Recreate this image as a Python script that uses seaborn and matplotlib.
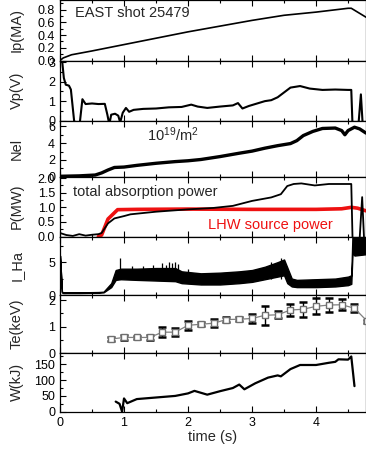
import numpy as np
import pandas as pd
import seaborn as sns
import matplotlib
matplotlib.use("Agg")
import matplotlib.pyplot as plt
from matplotlib.ticker import MultipleLocator, FormatStrFormatter

# ---- data (time in s) ----
ip_t = [0.0, 0.05, 0.18, 0.5, 1.0, 1.5, 2.0, 2.5, 3.0, 3.5, 4.0, 4.5, 4.55, 4.78]
ip_v = [0.0, 0.04, 0.09, 0.15, 0.25, 0.35, 0.45, 0.54, 0.63, 0.71, 0.76, 0.82, 0.82, 0.68]

vp_t = [0.0, 0.03, 0.06, 0.09, 0.14, 0.17, 0.22, 0.26, 0.31, 0.35, 0.40, 0.50, 0.60, 0.70,
        0.74, 0.77, 0.80, 0.86, 0.91, 0.94, 0.98, 1.03, 1.08, 1.15, 1.3, 1.5, 1.7, 1.9,
        2.05, 2.15, 2.3, 2.5, 2.7, 2.78, 2.85, 2.95, 3.1, 3.2, 3.3, 3.4, 3.5, 3.6, 3.75,
        3.9, 4.1, 4.3, 4.5, 4.55, 4.57, 4.66, 4.70, 4.73, 4.78]
vp_v = [3.5, 3.2, 2.2, 1.85, 1.8, 1.6, 0.0, -0.3, -0.1, 1.1, 0.85, 0.88, 0.85, 0.86,
        0.3, -0.2, 0.3, 0.35, 0.25, -0.1, 0.4, 0.65, 0.45, 0.55, 0.6, 0.62, 0.68, 0.7,
        0.82, 0.72, 0.65, 0.72, 0.78, 0.9, 0.62, 0.75, 0.9, 1.0, 1.05, 1.2, 1.45, 1.7, 1.78,
        1.65, 1.58, 1.6, 1.58, 1.58, -0.3, -0.3, 1.35, -0.3, -0.3]

nel_t = [0.0, 0.3, 0.55, 0.65, 0.75, 0.85, 1.0, 1.2, 1.5, 1.8, 2.0, 2.2, 2.5, 2.8, 3.0,
         3.2, 3.4, 3.6, 3.7, 3.8, 3.95, 4.1, 4.3, 4.4, 4.45, 4.5, 4.6, 4.68, 4.78]
nel_v = [0.05, 0.1, 0.2, 0.45, 0.8, 1.1, 1.15, 1.35, 1.6, 1.8, 1.9, 2.05, 2.4, 2.8, 3.05,
         3.4, 3.7, 3.95, 4.3, 4.9, 5.4, 5.75, 5.8, 5.5, 5.0, 5.5, 5.9, 5.7, 5.2]

pabs_t = [0.0, 0.1, 0.2, 0.3, 0.4, 0.5, 0.6, 0.65, 0.75, 0.85, 1.0, 1.1, 1.5, 2.0, 2.4,
          2.7, 3.0, 3.3, 3.45, 3.55, 3.65, 3.77, 3.98, 4.2, 4.55, 4.57, 4.68, 4.72, 4.75, 4.78]
pabs_v = [0.12, 0.05, 0.02, 0.08, 0.03, 0.06, 0.08, 0.12, 0.45, 0.62, 0.7, 0.76, 0.85, 0.93,
          0.98, 1.05, 1.22, 1.34, 1.45, 1.73, 1.8, 1.82, 1.75, 1.8, 1.8, -0.1, -0.1, 1.35, -0.1, -0.1]

plhw_t = [0.6, 0.65, 0.75, 0.9, 1.2, 2.0, 3.0, 4.0, 4.4, 4.55, 4.65, 4.78]
plhw_v = [0.0, 0.05, 0.6, 0.92, 0.93, 0.94, 0.93, 0.93, 0.95, 1.0, 0.97, 0.88]

# H-alpha: envelope of the dense oscillating band plus isolated spikes
ha_t = [0.0, 0.03, 0.05, 0.3, 0.6, 0.68, 0.8, 0.87, 0.95, 1.2, 1.5, 1.8, 1.9, 2.2, 2.5,
        2.8, 3.0, 3.2, 3.4, 3.5, 3.55, 3.62, 3.7, 4.0, 4.3, 4.5, 4.55, 4.57, 4.6, 4.78]
ha_lo = [6.0, 0.4, 0.3, 0.3, 0.35, 0.4, 1.2, 2.3, 2.4, 2.3, 2.2, 2.1, 1.8, 1.6, 1.6,
         1.8, 2.0, 2.4, 2.8, 3.0, 1.8, 1.3, 1.2, 1.2, 1.3, 1.5, 1.7, 6.5, 6.0, 6.2]
ha_hi = [6.0, 0.5, 0.4, 0.4, 0.45, 0.5, 1.8, 3.8, 4.0, 4.0, 4.1, 4.1, 3.6, 3.3, 3.4,
         3.6, 3.8, 4.3, 5.0, 5.4, 4.2, 2.5, 2.3, 2.4, 2.5, 2.8, 3.0, 9.5, 9.5, 9.5]
spike_t = [0.93, 1.12, 1.3, 1.45, 1.6, 1.65, 1.7, 1.75, 1.8, 1.85, 2.0, 3.3, 3.45]
spike_top = [5.6, 4.4, 4.4, 4.5, 4.8, 4.6, 5.0, 4.9, 5.0, 4.7, 4.0, 5.0, 5.7]

te_t = [0.8, 1.0, 1.2, 1.4, 1.6, 1.8, 2.0, 2.2, 2.4, 2.6, 2.8, 3.0, 3.2, 3.4, 3.6,
        3.8, 4.0, 4.2, 4.4, 4.6, 4.8]
te_v = [0.53, 0.59, 0.59, 0.59, 0.79, 0.79, 1.05, 1.09, 1.13, 1.27, 1.28, 1.31, 1.43, 1.45,
        1.63, 1.66, 1.77, 1.82, 1.83, 1.70, 1.2]
te_err = [0.08, 0.08, 0.06, 0.08, 0.18, 0.16, 0.18, 0.08, 0.16, 0.08, 0.08, 0.18, 0.36, 0.13,
          0.24, 0.28, 0.3, 0.25, 0.2, 0.15, 0.05]

w_t = [0.87, 0.93, 0.97, 1.0, 1.05, 1.2, 1.5, 1.8, 2.0, 2.1, 2.3, 2.5, 2.7, 2.8, 2.88,
       3.05, 3.25, 3.4, 3.45, 3.6, 3.75, 4.0, 4.2, 4.3, 4.35, 4.5, 4.55, 4.6]
w_v = [32, 25, 0, 42, 27, 40, 45, 50, 58, 66, 54, 65, 75, 86, 71, 90, 108, 115, 112, 135,
       148, 148, 155, 158, 166, 165, 175, 81]

sns.set_style("ticks")
plt.rcParams['font.family'] = ['Liberation Sans', 'DejaVu Sans']
plt.rcParams['mathtext.fontset'] = 'custom'
plt.rcParams['mathtext.rm'] = 'Liberation Sans'
plt.rcParams['mathtext.it'] = 'Liberation Sans:italic'
plt.rcParams['xtick.direction'] = 'in'
plt.rcParams['ytick.direction'] = 'in'

fig = plt.figure(figsize=(3.66, 4.54), dpi=100)
H = 454.0
edges = [0, 60.5, 120.5, 176.7, 236.5, 295.0, 353.0, 411.7]  # panel borders, px from top
left, width = 60 / 366, 306 / 366
axes = []
for i in range(7):
    top, bot = edges[i], edges[i + 1]
    axes.append(fig.add_axes([left, 1 - bot / H, width, (bot - top) / H]))

ylabels = ['Ip(MA)', 'Vp(V)', 'Nel', 'P(MW)', 'I_Ha', 'Te(keV)', 'W(kJ)']
ylims = [(0, 0.95), (0, 3.1), (0, 6.7), (0, 2.05), (0, 8.9), (0, 2.2), (0, 186)]
majors = [0.2, 1, 2, 0.5, 5, 1, 50]
minors = [0.1, 0.5, 1, 0.25, 2.5, 0.5, 25]

for ax, lab, mj, mn in zip(axes, ylabels, majors, minors):
    ax.xaxis.set_major_locator(MultipleLocator(1))
    ax.xaxis.set_minor_locator(MultipleLocator(0.5))
    ax.yaxis.set_major_locator(MultipleLocator(mj))
    ax.yaxis.set_minor_locator(MultipleLocator(mn))
    ax.tick_params(which='both', top=True, bottom=True, left=True, right=False,
                   labelsize=9, colors='black', width=0.8)
    ax.tick_params(which='major', length=4)
    ax.tick_params(which='minor', length=2)
    ax.set_ylabel(lab, fontsize=10.5)
    ax.yaxis.set_label_coords(-0.118, 0.5)
    for s in ax.spines.values():
        s.set_linewidth(0.9)
        s.set_color('black')
    if ax is not axes[-1]:
        ax.tick_params(labelbottom=False)

axes[0].yaxis.set_major_formatter(FormatStrFormatter('%.1f'))
axes[3].yaxis.set_major_formatter(FormatStrFormatter('%.1f'))

# Ip
sns.lineplot(x=ip_t, y=ip_v, ax=axes[0], color='black', lw=1.2, sort=False, estimator=None)
axes[0].text(0.23, 0.75, 'EAST shot 25479', fontsize=10.5, va='center')

# Vp
sns.lineplot(x=vp_t, y=vp_v, ax=axes[1], color='black', lw=1.5, sort=False, estimator=None)

# Nel
sns.lineplot(x=nel_t, y=nel_v, ax=axes[2], color='black', lw=2.4, sort=False, estimator=None)
axes[2].text(1.36, 5.0, r'10$^{19}$/m$^{2}$', fontsize=10.5, va='center')

# power
sns.lineplot(x=plhw_t, y=plhw_v, ax=axes[3], color='#ee1111', lw=2.6, sort=False, estimator=None)
sns.lineplot(x=pabs_t, y=pabs_v, ax=axes[3], color='black', lw=1.3, sort=False, estimator=None)
axes[3].text(0.2, 1.52, 'total absorption power', fontsize=10.5, va='center')
axes[3].text(2.31, 0.41, 'LHW source power', fontsize=10.5, va='center', color='#ee1111')

# H-alpha band + spikes
axes[4].fill_between(ha_t, ha_lo, ha_hi, color='black', lw=1.0, edgecolor='black')
axes[4].vlines(spike_t, 2.5, spike_top, color='black', lw=0.9)

# Te
te = pd.DataFrame({'t': te_t, 'Te': te_v, 'err': te_err})
axes[5].errorbar(te['t'], te['Te'], yerr=te['err'], fmt='none', ecolor='black',
                 elinewidth=1.0, capsize=2.6, capthick=1.8, zorder=2)
sns.lineplot(data=te, x='t', y='Te', ax=axes[5], color='#808080', lw=0.9, marker='s',
             markersize=5, markerfacecolor='white', markeredgecolor='#707070',
             markeredgewidth=1.0, zorder=3)

# stored energy
sns.lineplot(x=w_t, y=w_v, ax=axes[6], color='black', lw=1.6, sort=False, estimator=None)
axes[6].set_xlabel('time (s)', fontsize=10.5, labelpad=1)

for ax, yl in zip(axes, ylims):
    ax.set_xlim(0, 4.78)
    ax.set_ylim(*yl)

fig.savefig('out.png', dpi=100)
